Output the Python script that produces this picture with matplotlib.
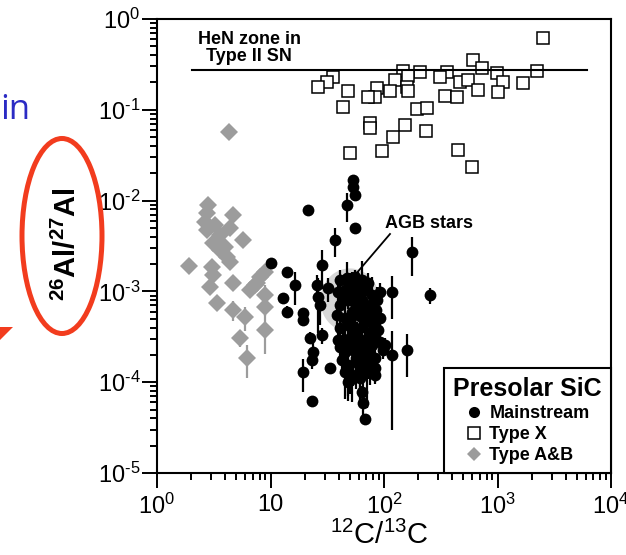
import numpy as np
import matplotlib
matplotlib.use("Agg")
import matplotlib.pyplot as plt
from matplotlib.lines import Line2D
from matplotlib.patches import Ellipse, Polygon

plt.rcParams['font.family'] = ['Liberation Sans', 'DejaVu Sans']
plt.rcParams['mathtext.fontset'] = 'custom'
plt.rcParams['mathtext.rm'] = 'Liberation Sans'
plt.rcParams['mathtext.it'] = 'Liberation Sans:italic'
plt.rcParams['mathtext.bf'] = 'Liberation Sans:bold'

# --- data ---
# Type X grains (open squares)
typex_c = [2510, 608, 730, 2230, 990, 147, 208, 359, 311, 163, 125, 35.5, 31.5, 26.2,
           48.2, 86.7, 83.3, 72.3, 113, 160, 163, 468, 550, 1120, 1680, 673, 1010, 345,
           440, 43.5, 195, 239, 75.3, 75.3, 153, 120, 234, 50.1, 96, 449, 596]
typex_al = [0.62, 0.353, 0.29, 0.27, 0.254, 0.27, 0.26, 0.26, 0.23, 0.236, 0.213, 0.23,
            0.202, 0.178, 0.161, 0.174, 0.138, 0.138, 0.161, 0.178, 0.161, 0.202, 0.213,
            0.202, 0.197, 0.165, 0.157, 0.142, 0.138, 0.107, 0.102, 0.105, 0.0716, 0.063,
            0.068, 0.050, 0.058, 0.0334, 0.0352, 0.036, 0.0234]

# Type A&B grains (grey diamonds)
ab_c = [4.31, 2.81, 2.76, 2.65, 2.76, 4.67, 4.40, 5.72, 3.11, 3.59, 4.14, 4.40, 1.91,
        3.05, 3.11, 2.93, 4.67, 8.08, 7.6, 8.95, 8.95, 3.38, 4.67, 5.96, 8.95, 5.39,
        8.95, 6.21, 3.24, 3.59, 3.97, 7.3, 6.6]
ab_al = [0.057, 0.00895, 0.0073, 0.0058, 0.00474, 0.00694, 0.00499, 0.00368, 0.0034,
         0.00286, 0.00239, 0.00211, 0.0019, 0.00186, 0.00152, 0.00112, 0.00124, 0.00144,
         0.00124, 0.00164, 0.00091, 0.000745, 0.000624, 0.000522, 0.000673, 0.000307,
         0.000376, 0.000185, 0.00538, 0.00418, 0.00308, 0.00118, 0.00104]
ab_err = [0.1, 0.1, 0.1, 0.1, 0.1, 0.1, 0.1, 0.15, 0.1, 0.1, 0.1, 0.1, 0.1, 0.1, 0.1,
          0.1, 0.15, 0.1, 0.1, 0.1, 0.3, 0.1, 0.25, 0.3, 0.2, 0.2, 0.45, 0.4,
          0.1, 0.1, 0.1, 0.1, 0.1]

# Mainstream grains (filled circles), relative 1-sigma errors
ms_c = [53.3, 53.3, 55.5, 47.2, 21.4, 55.5, 37.0, 177, 10.1, 14.0, 16.4, 12.9, 14.0,
        19.3, 19.3, 28.4, 25.7, 26.2, 27.3, 32.1, 92.2, 118, 254, 22.3, 28.4, 23.7,
        23.2, 19.3, 33.4, 23.2, 118, 160, 83.3, 50.1, 64.0, 65.3, 68.0, 48.2,
        40.9, 47.2, 55.5, 64.0, 72.3, 39.3, 45.3, 52.2, 59.0, 68.0, 78.4, 40.9, 48.2,
        55.5, 64.0, 75.3, 85.1, 38.5, 45.3, 52.2, 61.5, 70.8, 81.6, 92.2, 40.9, 48.2,
        55.5, 64.0, 75.3, 88.5, 43.5, 50.1, 59.0, 68.0, 78.4, 92.2, 45.3, 53.3, 61.5,
        72.3, 83.3, 98, 48.2, 56.6, 65.3, 75.3, 42.7, 52.2, 61.5, 70.8, 40.9, 102,
        50.1, 59.0, 43.5, 61.5, 50.1, 68.0, 57.8, 78.4, 48.2, 65.3, 56.6, 83.3, 45.3,
        61.5, 72.3, 39.3, 86.7, 75.3, 54.4, 69.4]
ms_al = [0.0169, 0.0141, 0.0115, 0.00895, 0.00788, 0.00499, 0.00368, 0.00272, 0.00206,
         0.00164, 0.00118, 0.000846, 0.000593, 0.000578, 0.000484, 0.00195, 0.00118,
         0.000867, 0.000708, 0.00109, 0.000985, 0.000985, 0.00091, 0.000307, 0.000331,
         0.000215, 0.000176, 0.000129, 0.000143, 0.0000621, 0.0002, 0.000226, 0.00012,
         0.000106, 0.000078, 0.000059, 0.0000393, 0.0001,
         0.00134, 0.00141, 0.00144, 0.00134, 0.00124, 0.000985, 0.00104, 0.00109,
         0.000985, 0.00104, 0.00091, 0.000708, 0.000804, 0.000745, 0.000804, 0.000708,
         0.000624, 0.00055, 0.000509, 0.000593, 0.000536, 0.000593, 0.000484, 0.000509,
         0.000395, 0.000427, 0.000376, 0.000406, 0.000357, 0.000376, 0.000292, 0.000307,
         0.00027, 0.000292, 0.000257, 0.000277, 0.000215, 0.000226, 0.0002, 0.000215,
         0.000185, 0.000226, 0.000155, 0.000167, 0.000143, 0.000155, 0.000176, 0.00012,
         0.000111, 0.000129, 0.000244, 0.000257,
         0.00124, 0.00118, 0.000846, 0.000656, 0.000484, 0.00046, 0.000331, 0.000322,
         0.000257, 0.000235, 0.000185, 0.000143, 0.000129, 0.000143, 0.000292, 0.000292,
         0.000804, 0.000509, 0.00091, 0.000185]
ms_err = [0.1, 0.1, 0.1, 0.35, 0.1, 0.1, 0.35, 0.45, 0.1, 0.1, 0.4, 0.1, 0.15, 0.15,
          0.1, 0.45, 0.3, 0.6, 0.4, 0.3, 0.25, 0.5, 0.2, 0.15, 0.2, 0.3, 0.2, 0.4, 0.1,
          0.1, 0.85, 0.5, 0.2, 0.3, 0.15, 0.1, 0.1, 0.3,
          0.3, 0.5, 0.2, 0.6, 0.3, 0.4, 0.2, 0.5, 0.3, 0.4, 0.6, 0.3, 0.2, 0.5, 0.3,
          0.4, 0.5, 0.3, 0.6, 0.2, 0.4, 0.3, 0.5, 0.2, 0.4, 0.3, 0.6, 0.2, 0.5, 0.3,
          0.4, 0.2, 0.6, 0.3, 0.5, 0.2, 0.4, 0.6, 0.3, 0.5, 0.4, 0.2, 0.6, 0.5, 0.7,
          0.4, 0.3, 0.5, 0.4, 0.6, 0.3, 0.2,
          0.3, 0.4, 0.2, 0.5, 0.3, 0.6, 0.4, 0.3, 0.5, 0.2, 0.4, 0.3, 0.5, 0.6, 0.3,
          0.2, 0.4, 0.5, 0.3, 0.4]

# HeN zone value and extent, AGB region (centre and half widths in decades)
hen_al = 0.274
hen_c = [2.03, 6150]
agb_center = (50.0, 0.0008)
agb_half = (0.26, 0.35)

xticks = [1, 10, 100, 1000, 10000]
xlabels = ['$10^0$', '10', '$10^2$', '$10^3$', '$10^4$']
yticks = [1e-5, 1e-4, 1e-3, 1e-2, 1e-1, 1]
ylabels = [r'$10^{\text{-}5}$', r'$10^{\text{-}4}$', r'$10^{\text{-}3}$',
           r'$10^{\text{-}2}$', r'$10^{\text{-}1}$', '$10^0$']

grey = '#9c9c9c'

fig = plt.figure(figsize=(6.26, 5.55), dpi=100)
ax = fig.add_axes([157 / 626, 1 - 473 / 555, 454 / 626, 454 / 555])
ax.set_xscale('log')
ax.set_yscale('log')
ax.set_xlim(1, 1e4)
ax.set_ylim(1e-5, 1)

# AGB star field
t = np.linspace(0, 2 * np.pi, 200)
ex = 10 ** (np.log10(agb_center[0]) + agb_half[0] * np.cos(t))
ey = 10 ** (np.log10(agb_center[1]) + agb_half[1] * np.sin(t))
ax.fill(ex, ey, color='#d6d6d6', lw=0, zorder=1)

# Type A&B
ab_c = np.array(ab_c); ab_al = np.array(ab_al)
ax.errorbar(ab_c, ab_al, yerr=ab_al * np.array(ab_err), fmt='D', color=grey,
            ms=9.5, mew=0, elinewidth=1.6, capsize=0, zorder=2)

# Mainstream
ms_c = np.array(ms_c); ms_al = np.array(ms_al)
ax.errorbar(ms_c, ms_al, yerr=ms_al * np.array(ms_err), fmt='o', color='black',
            ms=8.5, mew=0, elinewidth=1.6, capsize=0, zorder=3)

# Type X
ax.plot(typex_c, typex_al, 's', mfc='white', mec='black', mew=1.1, ms=8, ls='none',
        zorder=4)

# HeN zone
ax.plot(hen_c, [hen_al, hen_al], color='black', lw=1.5, zorder=5)
ax.text((249 - 157) / 454, 1 - 29 / 454, 'HeN zone in\nType II SN', transform=ax.transAxes,
        ha='center', va='center', fontsize=13, fontweight='bold', linespacing=1.05)

# AGB label
ax.text((385 - 157) / 454, (473 - 223) / 454, 'AGB stars', transform=ax.transAxes,
        ha='left', va='center', fontsize=13, fontweight='bold')
ax.plot([(390 - 157) / 454, (355 - 157) / 454], [(473 - 234) / 454, (473 - 275) / 454],
        transform=ax.transAxes, color='black', lw=1.3, zorder=6)

# axes styling
for s in ax.spines.values():
    s.set_linewidth(1.5)
ax.set_xticks(xticks)
ax.set_xticklabels(xlabels)
ax.set_yticks(yticks)
ax.set_yticklabels(ylabels)
ax.tick_params(which='both', direction='out', width=1.4, top=False, right=False)
ax.tick_params(which='major', length=11, labelsize=17)
ax.tick_params(which='minor', length=5)
ax.tick_params(axis='y', pad=1)
ax.tick_params(axis='x', pad=4)

ax.set_xlabel('$^{12}$C/$^{13}$C', fontsize=21)
ax.xaxis.set_label_coords(0.49, -0.105)
ax.set_ylabel(r'$^{\mathbf{26}}$Al/$^{\mathbf{27}}$Al', fontsize=21, fontweight='bold')
ax.yaxis.set_label_coords(-0.165, 0.505)

# legend
handles = [Line2D([], [], marker='o', ls='none', color='black', ms=8, mew=0),
           Line2D([], [], marker='s', ls='none', mfc='white', mec='black', mew=1.1, ms=8),
           Line2D([], [], marker='D', ls='none', color=grey, ms=7.5, mew=0)]
leg = ax.legend(handles, ['Mainstream', 'Type X', 'Type A&B'], title='Presolar SiC',
                loc='lower right', borderaxespad=0, frameon=True, fancybox=False,
                edgecolor='black', framealpha=1,
                prop=dict(family='Liberation Sans', weight='bold', size=13),
                title_fontproperties=dict(family='Liberation Sans', weight='bold', size=18),
                handlelength=0.9, handletextpad=0.4, labelspacing=0.22, borderpad=0.5)
leg.get_frame().set_linewidth(1.5)
leg.set_zorder(10)

# slide decorations around the figure
fig.text(0.0, 1 - 110 / 555, 'in', color='#2b2bc4', fontsize=25,
         ha='left', va='center', family='Open Sans')
fig.patches.append(Ellipse((62 / 626, 1 - 236 / 555), 80 / 626, 195 / 555,
                           transform=fig.transFigure, fill=False, ec='#f23c1e', lw=3.6))
fig.patches.append(Polygon([(0, 1 - 327 / 555), (13 / 626, 1 - 327 / 555),
                            (0, 1 - 340 / 555)], closed=True, transform=fig.transFigure,
                           color='#f23c1e', lw=0))

fig.savefig('out.png', dpi=100)
